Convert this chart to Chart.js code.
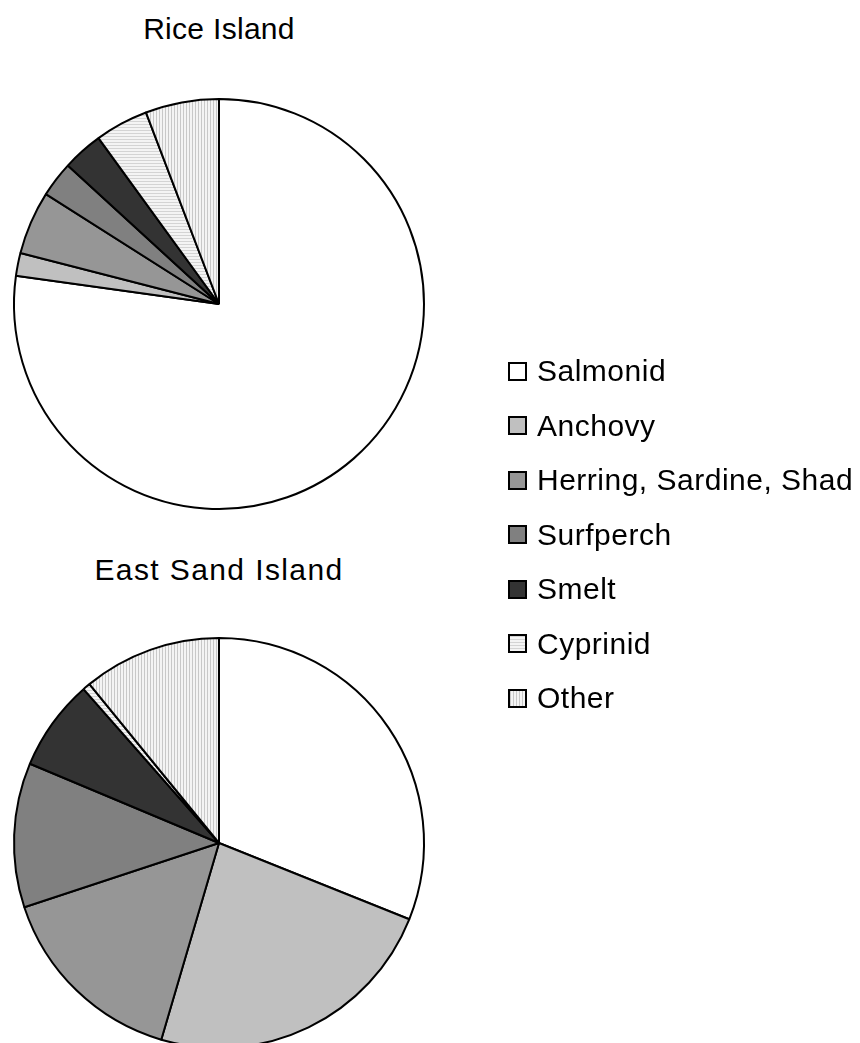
<!DOCTYPE html>
<html>

<head>
    <title>Diet composition</title>
    <script src="https://cdn.jsdelivr.net/npm/chart.js"></script>
    <style>
        body {
            margin: 0;
            width: 860px;
            height: 1043px;
            overflow: hidden;
            background: #fff;
            font-family: "Liberation Sans", Arial, sans-serif;
            position: relative;
        }

        .title {
            position: absolute;
            left: 0;
            width: 438px;
            text-align: center;
            font-size: 30px;
            color: #000;
            white-space: nowrap;
        }

        .pie {
            position: absolute;
            left: 0;
        }

        #legend {
            position: absolute;
            left: 508px;
            top: 344px;
        }

        .item {
            height: 54.5px;
            display: flex;
            align-items: center;
            font-size: 30px;
            letter-spacing: 0.5px;
            color: #000;
        }

        .item canvas {
            border: 2px solid #000;
            margin-right: 10px;
        }
    </style>
</head>

<body>
    <div class="title" style="top: 12px; letter-spacing: 0.3px;">Rice Island</div>
    <canvas id="rice" class="pie" width="438" height="438" style="top: 85px;"></canvas>

    <div class="title" style="top: 553px; letter-spacing: 1.4px;">East Sand Island</div>
    <canvas id="eastSand" class="pie" width="438" height="438" style="top: 624px;"></canvas>

    <div id="legend"></div>

    <script>
        // Prey groups (percent of diet) for each colony
        const categories = ['Salmonid', 'Anchovy', 'Herring, Sardine, Shad', 'Surfperch', 'Smelt', 'Cyprinid', 'Other'];
        const riceIsland = [77.2, 1.8, 5.0, 2.8, 3.2, 4.2, 5.8];
        const eastSandIsland = [31.1, 23.5, 15.4, 11.4, 7.2, 0.6, 10.9];

        // Striped fills for the last two groups
        function stripes(horizontal) {
            const c = document.createElement('canvas');
            c.width = horizontal ? 1 : 3;
            c.height = horizontal ? 3 : 1;
            const g = c.getContext('2d');
            g.fillStyle = '#f4f4f4';
            g.fillRect(0, 0, c.width, c.height);
            g.fillStyle = horizontal ? '#d4d4d4' : '#c8c8c8';
            g.fillRect(0, 0, 1, 1);
            return g.createPattern(c, 'repeat');
        }

        const fills = ['#ffffff', '#c0c0c0', '#969696', '#808080', '#333333', stripes(true), stripes(false)];

        function makePie(id, values) {
            new Chart(document.getElementById(id), {
                type: 'pie',
                data: {
                    labels: categories,
                    datasets: [{
                        data: values,
                        backgroundColor: fills,
                        borderColor: '#000',
                        borderWidth: 2
                    }]
                },
                options: {
                    responsive: false,
                    animation: false,
                    radius: 205,
                    layout: { padding: 0 },
                    plugins: {
                        legend: { display: false },
                        tooltip: { enabled: false }
                    }
                }
            });
        }

        makePie('rice', riceIsland);
        makePie('eastSand', eastSandIsland);

        // Legend on the right, shared by both pies
        const legend = document.getElementById('legend');
        categories.forEach((name, i) => {
            const row = document.createElement('div');
            row.className = 'item';
            const swatch = document.createElement('canvas');
            swatch.width = 15;
            swatch.height = 15;
            const g = swatch.getContext('2d');
            g.fillStyle = fills[i];
            g.fillRect(0, 0, 15, 15);
            row.appendChild(swatch);
            row.appendChild(document.createTextNode(name));
            legend.appendChild(row);
        });
    </script>
</body>

</html>
